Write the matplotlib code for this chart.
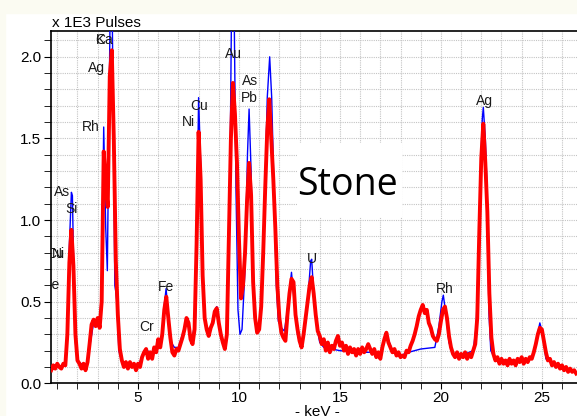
import numpy as np
import matplotlib.pyplot as plt
from matplotlib.patches import Rectangle
from matplotlib.ticker import MultipleLocator

plt.rcParams['font.family'] = ['Liberation Sans', 'DejaVu Sans']

# red spectrum, one channel every 0.1 keV from 0.7 to 26.7 (x 1E3 pulses)
red_kev = np.round(np.arange(0.7, 26.75, 0.1), 1)
red_counts = [
    0.08, 0.11, 0.09,                                              # 0.7
    0.12, 0.10, 0.09, 0.12, 0.11, 0.30, 0.74, 0.94, 0.72, 0.30,    # 1.0
    0.14, 0.12, 0.09, 0.12, 0.08, 0.13, 0.24, 0.36, 0.39, 0.35,    # 2.0
    0.40, 0.34, 0.50, 1.42, 1.22, 1.08, 1.88, 2.04, 1.50, 0.75,    # 3.0
    0.42, 0.21, 0.14, 0.10, 0.13, 0.09, 0.13, 0.10, 0.12, 0.08,    # 4.0
    0.12, 0.10, 0.16, 0.19, 0.21, 0.15, 0.19, 0.15, 0.22, 0.19,    # 5.0
    0.27, 0.22, 0.30, 0.45, 0.53, 0.40, 0.28, 0.19, 0.17, 0.21,    # 6.0
    0.20, 0.24, 0.28, 0.33, 0.40, 0.37, 0.27, 0.24, 0.33, 0.85,    # 7.0
    1.54, 1.25, 0.66, 0.40, 0.33, 0.29, 0.34, 0.37, 0.44, 0.46,    # 8.0
    0.37, 0.30, 0.25, 0.21, 0.30, 0.90, 1.50, 1.84, 1.65, 1.35,    # 9.0
    0.88, 0.52, 0.60, 0.80, 1.12, 1.35, 1.15, 0.62, 0.40, 0.31,    # 10.0
    0.33, 0.47, 0.80, 1.20, 1.55, 1.74, 1.50, 1.25, 0.95, 0.60,    # 11.0
    0.40, 0.31, 0.28, 0.26, 0.42, 0.55, 0.64, 0.62, 0.42, 0.33,    # 12.0
    0.26, 0.22, 0.30, 0.40, 0.50, 0.60, 0.65, 0.55, 0.42, 0.32,    # 13.0
    0.29, 0.24, 0.27, 0.20, 0.25, 0.19, 0.23, 0.21, 0.26, 0.29,    # 14.0
    0.23, 0.25, 0.20, 0.23, 0.18, 0.22, 0.19, 0.21, 0.17, 0.21,    # 15.0
    0.18, 0.22, 0.19, 0.21, 0.24, 0.21, 0.18, 0.21, 0.16, 0.19,    # 16.0
    0.15, 0.22, 0.27, 0.31, 0.25, 0.22, 0.19, 0.21, 0.17, 0.19,    # 17.0
    0.16, 0.17, 0.16, 0.20, 0.19, 0.23, 0.26, 0.30, 0.35, 0.41,    # 18.0
    0.45, 0.48, 0.43, 0.45, 0.37, 0.34, 0.29, 0.27, 0.26, 0.30,    # 19.0
    0.38, 0.45, 0.47, 0.40, 0.29, 0.22, 0.18, 0.16, 0.19, 0.15,    # 20.0
    0.18, 0.16, 0.19, 0.15, 0.18, 0.16, 0.20, 0.24, 0.40, 0.92,    # 21.0
    1.38, 1.59, 1.35, 1.05, 0.55, 0.28, 0.18, 0.14, 0.16, 0.12,    # 22.0
    0.15, 0.12, 0.14, 0.11, 0.15, 0.12, 0.14, 0.11, 0.15, 0.13,    # 23.0
    0.16, 0.12, 0.15, 0.13, 0.16, 0.15, 0.19, 0.24, 0.30, 0.34,    # 24.0
    0.33, 0.26, 0.19, 0.14, 0.15, 0.11, 0.13, 0.10, 0.12, 0.09,    # 25.0
    0.11, 0.08, 0.10, 0.07, 0.09, 0.07, 0.08, 0.06,                # 26.0
]

# blue reference spectrum (smooth)
blue_kev = [0.7, 1.4, 1.5, 1.6, 1.7, 1.75, 1.8, 1.9, 2.0, 2.2, 2.5, 2.6, 2.8, 3.1,
            3.2, 3.3, 3.4, 3.48, 3.55, 3.62, 3.72, 3.8, 3.85, 3.9, 3.95, 4.05, 4.2,
            5.0, 5.4, 5.7, 6.0, 6.2, 6.3, 6.39, 6.5, 6.6, 6.8, 7.0, 7.45, 7.65,
            7.85, 7.95, 8.0, 8.1, 8.2, 8.3, 8.4, 8.6, 8.8, 8.9, 9.0, 9.15, 9.3,
            9.45, 9.55, 9.63, 9.76, 9.85, 9.95, 10.05, 10.15, 10.3, 10.42, 10.5,
            10.6, 10.7, 10.8, 10.9, 11.0, 11.1, 11.25, 11.4, 11.52, 11.62, 11.75,
            11.85, 11.95, 12.1, 12.25, 12.4, 12.6, 12.75, 12.9, 13.05, 13.2, 13.4,
            13.55, 13.6, 13.7, 13.85, 14.0, 14.2, 15.0, 16.0, 17.0, 17.3, 17.6,
            18.0, 18.4, 19.0, 19.7, 19.9, 20.05, 20.12, 20.25, 20.4, 20.6, 21.0,
            21.6, 21.75, 21.85, 21.95, 22.05, 22.1, 22.2, 22.27, 22.38, 22.47,
            22.6, 23.0, 24.0, 24.5, 24.7, 24.9, 25.05, 25.2, 25.5, 26.0, 26.7]
blue_counts = [0.10, 0.11, 0.35, 0.85, 1.17, 1.15, 0.80, 0.25, 0.13, 0.12, 0.12, 0.22, 0.37, 0.36,
               0.60, 1.57, 0.95, 0.69, 1.50, 2.30, 2.30, 1.30, 0.60, 0.56, 0.50, 0.20, 0.13,
               0.11, 0.21, 0.17, 0.23, 0.30, 0.48, 0.58, 0.42, 0.26, 0.22, 0.22, 0.40, 0.25,
               0.40, 1.30, 1.75, 1.35, 0.65, 0.40, 0.34, 0.33, 0.42, 0.47, 0.38, 0.26, 0.21,
               0.40, 1.20, 2.30, 2.30, 1.20, 0.45, 0.30, 0.33, 0.70, 1.40, 1.68,
               1.30, 0.62, 0.38, 0.31, 0.33, 0.50, 1.00, 1.75, 2.00, 1.75, 1.10,
               0.60, 0.38, 0.34, 0.32, 0.45, 0.68, 0.48, 0.30, 0.23, 0.30, 0.50,
               0.75, 0.76, 0.55, 0.35, 0.25, 0.22, 0.20, 0.19, 0.19, 0.30, 0.20,
               0.17, 0.19, 0.21, 0.22, 0.35, 0.50, 0.54, 0.42, 0.25, 0.18, 0.17,
               0.20, 0.35, 0.75, 1.25, 1.62, 1.69, 1.50, 1.25, 0.43, 0.20,
               0.17, 0.14, 0.14, 0.15, 0.25, 0.37, 0.30, 0.15, 0.12, 0.10, 0.07]

# element labels
label_text = ['K', 'Ca', 'Ag', 'Rh', 'As', 'Si', 'Cu', 'Ni', 'Fe', 'Fe', 'Cr',
              'Cu', 'Ni', 'Au', 'As', 'Pb', 'U', 'Rh', 'Ag']
label_kev = [3.12, 3.32, 2.92, 2.67, 1.25, 1.73, 0.89, 1.04, 0.72, 6.37, 5.41,
             8.02, 7.48, 9.71, 10.55, 10.53, 13.62, 20.21, 22.14]
label_val = [2.10, 2.10, 1.93, 1.57, 1.17, 1.066, 0.79, 0.79, 0.60, 0.59, 0.343,
             1.70, 1.60, 2.02, 1.85, 1.75, 0.76, 0.576, 1.73]

fig = plt.figure(figsize=(5.77, 4.16), dpi=100)
fig.patches.append(Rectangle((0, 1 - 13 / 416), 1, 13 / 416, transform=fig.transFigure,
                             color='#fbfbf2', zorder=0))
fig.patches.append(Rectangle((0, 0), 5 / 577, 1, transform=fig.transFigure,
                             color='#fbfbf2', zorder=0))

ax = fig.add_axes([51 / 577, 32.7 / 416, 1 - 51 / 577, 352.6 / 416])

ax.plot(blue_kev, blue_counts, color='#0000ff', lw=1.0, zorder=3)
ax.plot(red_kev, red_counts, color='#ff0000', lw=2.8, zorder=4)

ax.set_xlim(0.69, 26.74)
ax.set_ylim(0, 2.16)

ax.xaxis.set_major_locator(MultipleLocator(5))
ax.xaxis.set_minor_locator(MultipleLocator(1))
ax.yaxis.set_major_locator(MultipleLocator(0.5))
ax.yaxis.set_minor_locator(MultipleLocator(0.1))
ax.yaxis.set_major_formatter(lambda v, p: f'{v:.1f}')
ax.tick_params(which='both', direction='out', colors='black', labelsize=11)
ax.tick_params(axis='y', which='major', length=5, pad=2)
ax.tick_params(axis='y', which='minor', length=5)
ax.tick_params(axis='x', which='major', length=4, pad=1.5)
ax.tick_params(axis='x', which='minor', length=4)
ax.grid(which='both', color='#c4c4c4', lw=0.8, linestyle=(0, (1, 1)), zorder=0)
ax.set_axisbelow(True)
ax.spines['right'].set_visible(False)
for s in ['left', 'bottom', 'top']:
    ax.spines[s].set_linewidth(1.2)

for t, k, v in zip(label_text, label_kev, label_val):
    ax.text(k, v, t, ha='center', va='center', fontsize=10, color='#1a1a1a',
            zorder=5, clip_on=True)

# "Stone" box
ax.add_patch(Rectangle((0.4677, 0.4716), 0.1993, 0.2099, transform=ax.transAxes,
                       facecolor='white', edgecolor='none', zorder=2))
ax.text(0.5646, 0.534, 'Stone', transform=ax.transAxes, ha='center', va='baseline',
        fontsize=27, family='Open Sans', color='black', zorder=6)

fig.text(52 / 577, 1 - 27 / 416, 'x 1E3 Pulses', ha='left', va='baseline', fontsize=11)
fig.text(317 / 577, 1 - 405 / 416, '- keV -', ha='center', va='top', fontsize=11)

fig.savefig('out.png', dpi=100)
